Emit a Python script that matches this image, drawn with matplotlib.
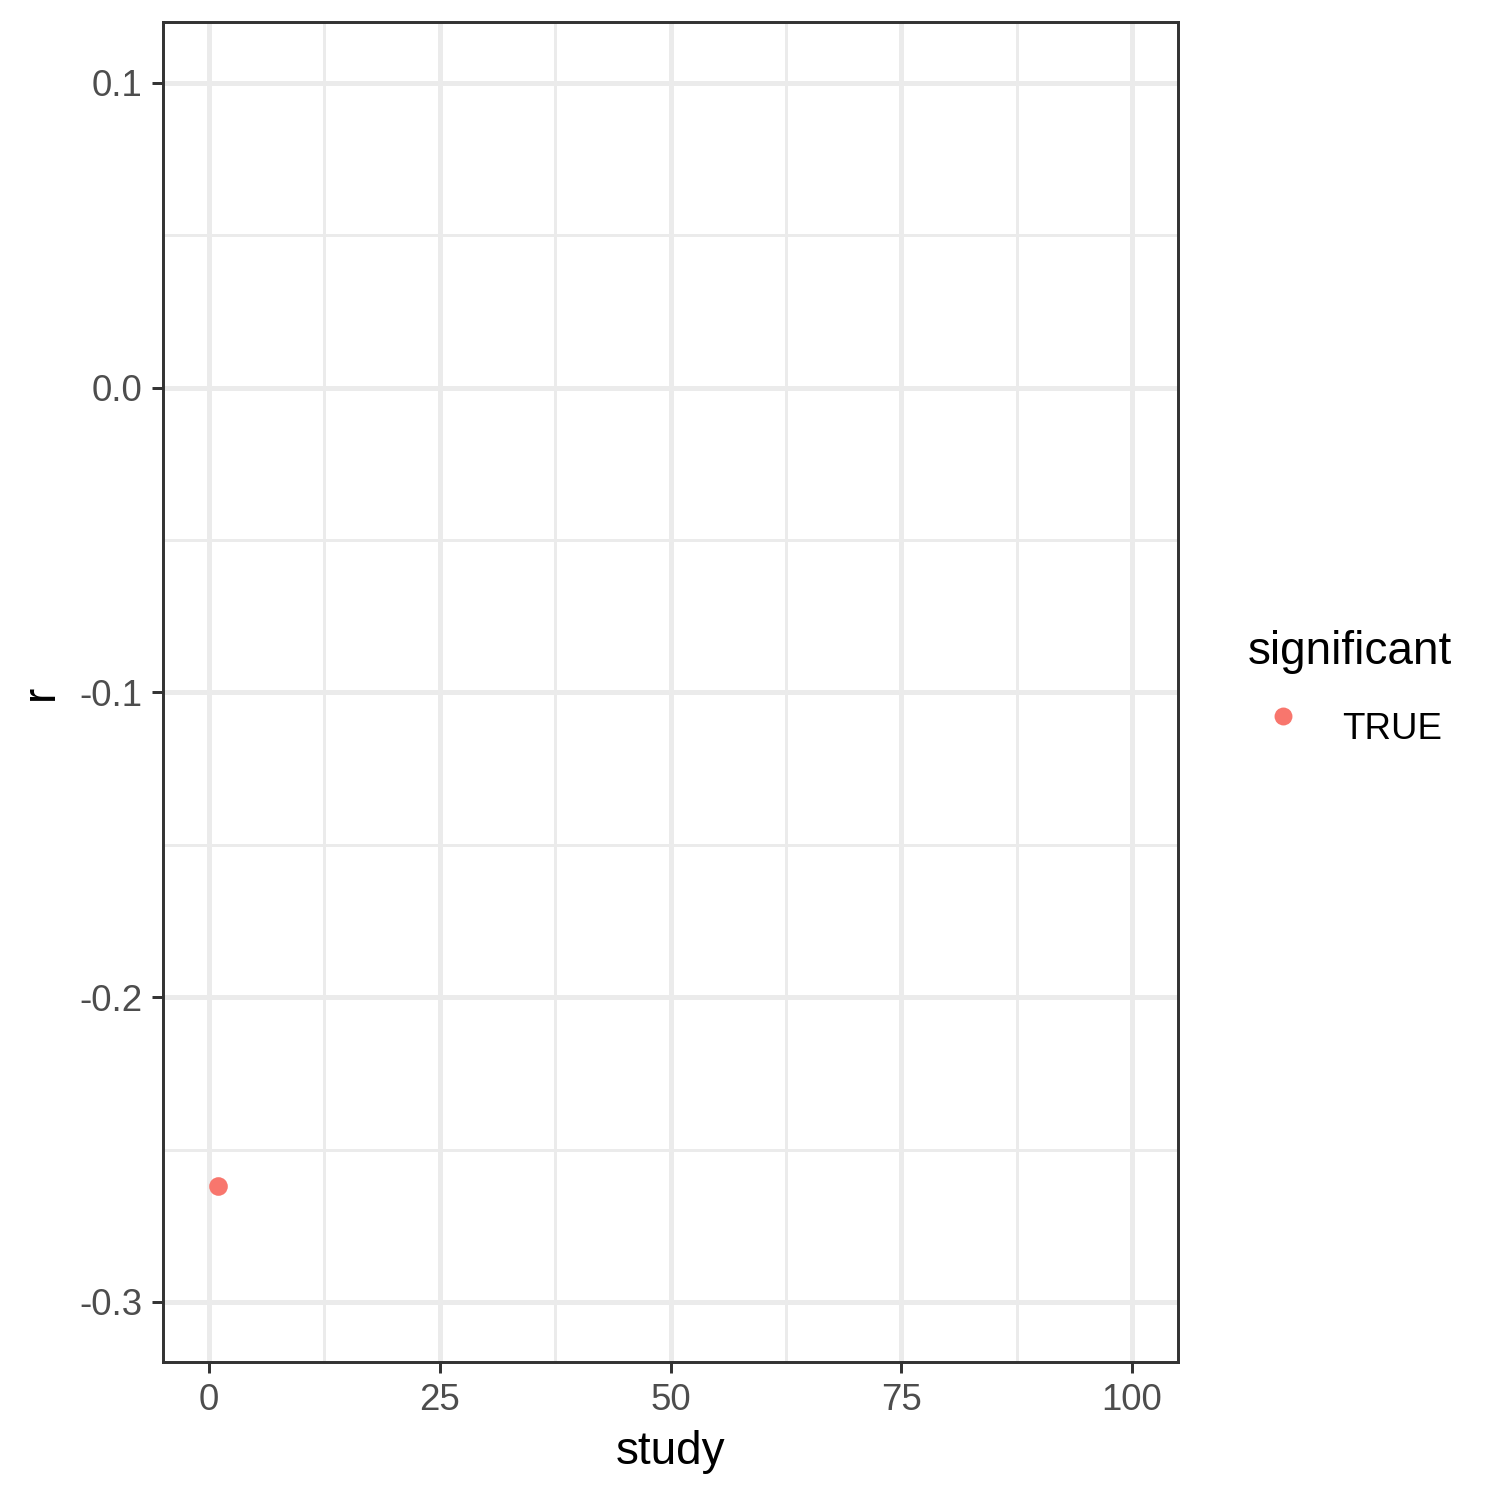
import matplotlib
matplotlib.use("Agg")
import matplotlib.pyplot as plt
from matplotlib.lines import Line2D
import numpy as np

plt.rcParams['font.family'] = ['Liberation Sans', 'DejaVu Sans']

study = [1]
r = [-0.262]
significant = ["TRUE"]

x_major = [0, 25, 50, 75, 100]
x_minor = [12.5, 37.5, 62.5, 87.5]
y_major = [-0.3, -0.2, -0.1, 0.0, 0.1]
y_minor = [-0.25, -0.15, -0.05, 0.05]

point_color = "#F8766D"
grid_color = "#EBEBEB"
border_color = "#333333"

fig = plt.figure(figsize=(5, 5), dpi=300)
ax = fig.add_axes([163 / 1500, 1 - 1362 / 1500, (1178 - 163) / 1500, (1362 - 22) / 1500])

ax.set_xlim(-5, 105)
ax.set_ylim(-0.3197, 0.12)

# grid lines like theme_bw
for v in x_minor:
    ax.axvline(v, color=grid_color, lw=0.71, zorder=0)
for v in y_minor:
    ax.axhline(v, color=grid_color, lw=0.71, zorder=0)
for v in x_major:
    ax.axvline(v, color=grid_color, lw=1.2, zorder=0)
for v in y_major:
    ax.axhline(v, color=grid_color, lw=1.2, zorder=0)

ax.scatter(study, r, s=20, color=point_color, linewidths=0, zorder=3)

ax.set_xticks(x_major)
ax.set_xticklabels([str(v) for v in x_major])
ax.set_yticks(y_major)
ax.set_yticklabels(["%.1f" % v for v in y_major])
ax.tick_params(axis='both', length=2.75, width=0.71, color=border_color,
               labelsize=8.8, labelcolor="#4D4D4D", pad=2.2)

for sp in ax.spines.values():
    sp.set_color(border_color)
    sp.set_linewidth(0.71)

ax.set_xlabel("study", fontsize=11, labelpad=3)
ax.set_ylabel("r", fontsize=11, labelpad=4)

handles = [Line2D([], [], marker='o', linestyle='', markersize=4.3,
                  markerfacecolor=point_color, markeredgewidth=0, label=significant[0])]
leg = fig.legend(handles=handles, title="significant", loc='upper left',
                 bbox_to_anchor=(1233 / 1500, 1 - 615 / 1500), frameon=False,
                 fontsize=8.8, title_fontsize=11, handletextpad=0.68,
                 handlelength=1.9, handleheight=2.65, borderaxespad=0, labelspacing=0.5)
leg._legend_box.align = "left"

fig.savefig("out.png", dpi=300)
